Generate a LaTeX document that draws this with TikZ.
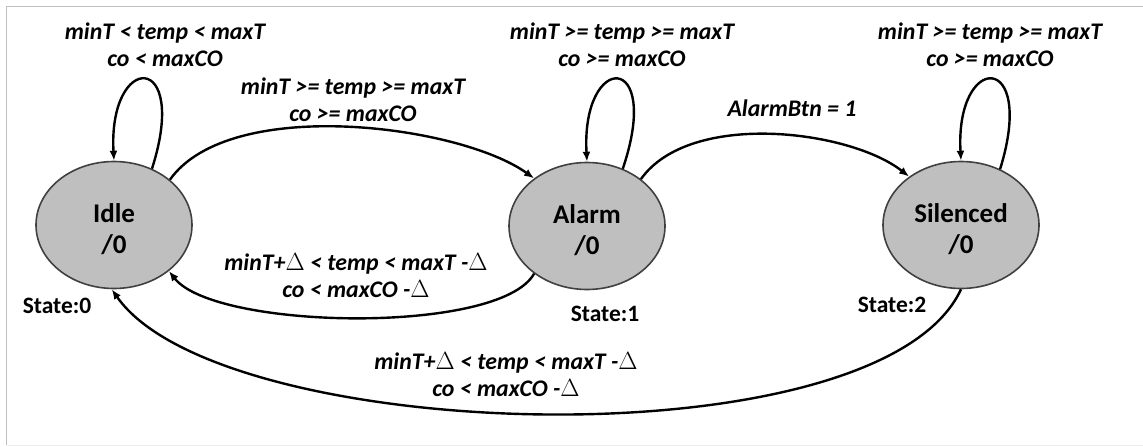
\documentclass[tikz,border=0pt]{standalone}
\usepackage{fontspec}
\setmainfont{Carlito}
\usetikzlibrary{arrows.meta,shapes.geometric}
\newcommand{\dlt}{\ensuremath{\Delta}}
\newcommand{\tstrut}{\rule{0pt}{28pt}}
\begin{document}
\begin{tikzpicture}[x=1pt,y=-1pt,
  state/.style={ellipse, draw=black!75, line width=1.6pt, fill=black!25,
    minimum width=156pt, minimum height=127pt, inner sep=0pt, align=center,
    font=\fontsize{27}{31}\selectfont\bfseries},
  lab/.style={align=center, inner sep=0pt,
    font=\fontsize{23.8}{27}\selectfont\bfseries\itshape},
  slab/.style={inner sep=0pt, font=\fontsize{23.5}{27}\selectfont\bfseries},
  arr/.style={line width=2.4pt, black, -{Latex[length=10pt,width=8pt]}},
  frame/.style={gray!50, line width=1.5pt}]
\useasboundingbox (0,0) rectangle (1143,447);
\draw[frame] (1143,6.5) -- (6.5,6.5) -- (6.5,445);
\draw[gray!15, line width=1pt] (6.5,445) -- (1143,445);

\node[state] (idle) at (114,225) {\tstrut Idle\\/0};
\node[state] (alarm) at (587,226) {\tstrut Alarm\\/0};
\node[state] (sil) at (961,225) {\tstrut Silenced\\/0};

\node[slab] (s0) at (57,306) {State:0};
\node[slab] (s1) at (605,314) {State:1};
\node[slab] (s2) at (892,305) {State:2};

% self loops
\draw[arr] (idle.56) .. controls (190,50) and (108,52) .. (idle.90);
\draw[arr] (alarm.58) .. controls (663,50) and (581,52) .. (alarm.90);
\draw[arr] (sil.55) .. controls (1037,50) and (955,52) .. (sil.90);

% transitions
\draw[arr] (idle.39) .. controls (230,95) and (460,125) .. (alarm.138);
\draw[arr] (alarm.41) .. controls (690,110) and (850,130) .. (sil.137);
\draw[arr] (alarm.222) .. controls (500,335) and (215,330) .. (idle.320);
\draw[arr] (sil.270) .. controls (880,465) and (220,445) .. (idle.268);

% labels
\node[lab] (l1) at (165,45) {minT < temp < maxT\\co < maxCO};
\node[lab] (l2) at (622,45) {minT >= temp >= maxT\\co >= maxCO};
\node[lab] (l3) at (990,45) {minT >= temp >= maxT\\co >= maxCO};
\node[lab] (l4) at (353,100) {minT >= temp >= maxT\\co >= maxCO};
\node[lab] (l5) at (792,108) {AlarmBtn = 1};
\node[lab] (l6) at (356,276) {minT+\dlt{} < temp < maxT -\dlt\\co < maxCO -\dlt};
\node[lab] (l7) at (506,375) {minT+\dlt{} < temp < maxT -\dlt\\co < maxCO -\dlt};
\end{tikzpicture}
\end{document}
